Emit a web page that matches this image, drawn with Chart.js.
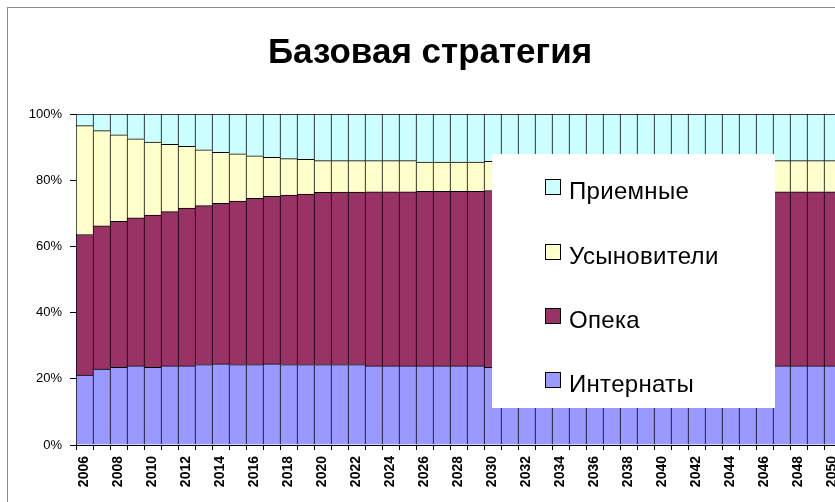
<!DOCTYPE html>
<html><head><meta charset="utf-8">
<script src="https://cdn.jsdelivr.net/npm/chart.js@4/dist/chart.umd.min.js"></script>
<style>
html,body{margin:0;padding:0;overflow:hidden;background:#fff;width:835px;height:502px}
#wrap{width:835px;height:502px;overflow:hidden;position:relative}
canvas{position:absolute;left:0;top:0}
</style></head>
<body><div id="wrap"><canvas id="c" width="860" height="515"></canvas></div>
<script>
const years = ['2006','2007','2008','2009','2010','2011','2012','2013','2014','2015','2016','2017','2018','2019','2020','2021','2022','2023','2024','2025','2026','2027','2028','2029','2030','2031','2032','2033','2034','2035','2036','2037','2038','2039','2040','2041','2042','2043','2044','2045','2046','2047','2048','2049','2050'];
const internaty = [21.1,22.9,23.5,23.9,23.5,23.9,23.9,24.3,24.5,24.3,24.3,24.5,24.3,24.3,24.3,24.3,24.3,23.9,23.9,23.9,23.9,23.9,23.9,23.9,23.5,23.6,23.6,23.7,23.7,23.7,23.8,23.8,23.8,23.8,23.9,23.9,23.9,23.9,23.9,23.9,23.9,23.9,23.9,23.9,23.9];
const opeka = [42.5,43.3,44.1,44.7,46.0,46.6,47.7,48.0,48.5,49.4,50.2,50.6,51.2,51.5,52.0,52.1,52.1,52.6,52.6,52.6,52.7,52.7,52.7,52.7,53.4,53.2,53.2,53.0,53.0,53.0,52.8,52.8,52.8,52.8,52.6,52.6,52.6,52.6,52.6,52.6,52.6,52.6,52.6,52.6,52.6];
const usynoviteli = [32.9,28.8,26.1,23.9,22.0,20.3,18.6,16.9,15.4,14.3,12.9,11.8,11.0,10.5,9.6,9.5,9.5,9.4,9.4,9.4,8.9,8.9,8.9,8.9,8.8,8.9,8.9,9.0,9.0,9.0,9.2,9.2,9.2,9.2,9.4,9.4,9.4,9.4,9.4,9.4,9.4,9.4,9.4,9.4,9.4];
const priemnye = [3.5,5.0,6.3,7.5,8.5,9.2,9.8,10.8,11.6,12.0,12.6,13.1,13.5,13.7,14.1,14.1,14.1,14.1,14.1,14.1,14.5,14.5,14.5,14.5,14.3,14.3,14.3,14.3,14.3,14.3,14.2,14.2,14.2,14.2,14.1,14.1,14.1,14.1,14.1,14.1,14.1,14.1,14.1,14.1,14.1];
const seriesNames = ['Интернаты','Опека','Усыновители','Приемные'];
const yTicks = [0,20,40,60,80,100];
const titleText = 'Базовая стратегия';

const FONT = '"Liberation Sans", Arial, sans-serif';
const colors = ['#9999FF','#993366','#FFFFCC','#CCFFFF'];
const seriesData = [internaty, opeka, usynoviteli, priemnye];

const frame = {
  id:'frame',
  beforeDraw(chart){
    const ctx = chart.ctx, a = chart.chartArea;
    ctx.save();
    ctx.fillStyle = '#fff';
    ctx.fillRect(0,0,chart.width,chart.height);
    ctx.strokeStyle = '#8c8c8c'; ctx.lineWidth = 1;
    ctx.strokeRect(7.5,7.5,chart.width-15,chart.height-15);
    ctx.strokeStyle = '#808080';
    ctx.strokeRect(Math.round(a.left)+0.5, Math.round(a.top)+0.5, a.right-a.left, a.bottom-a.top);
    ctx.restore();
  }
};

const legendBox = {
  id:'legendBox',
  afterDatasetsDraw(chart){
    const ctx = chart.ctx;
    ctx.save();
    ctx.fillStyle = '#fff';
    ctx.fillRect(492,154,283,254);
    const ds = chart.data.datasets.slice().reverse();
    const tops = [179,244,308,372];
    ds.forEach((d,i)=>{
      const t = tops[i];
      ctx.fillStyle = d.backgroundColor;
      ctx.fillRect(545,t,16,16);
      ctx.strokeStyle = '#000'; ctx.lineWidth = 1;
      ctx.strokeRect(545.5,t+0.5,15,15);
      ctx.fillStyle = '#000';
      ctx.font = '24px ' + FONT;
      if ('letterSpacing' in ctx) ctx.letterSpacing = '0.3px';
      ctx.textBaseline = 'alphabetic';
      ctx.textAlign = 'left';
      ctx.fillText(d.label, 569, t+20);
    });
    ctx.restore();
  }
};

new Chart(document.getElementById('c'), {
  type:'bar',
  data:{
    labels: years,
    datasets: seriesNames.map((n,i)=>({
      label:n,
      data:seriesData[i],
      backgroundColor:colors[i],
      borderColor:'#000',
      borderWidth:{left:1,top:1,right:0,bottom:0},
      borderSkipped:false,
      barPercentage:1,
      categoryPercentage:1
    }))
  },
  options:{
    responsive:false,
    animation:false,
    devicePixelRatio:1,
    layout:{padding:{left:0,right:0,top:0,bottom:0}},
    plugins:{
      legend:{display:false},
      tooltip:{enabled:false},
      title:{display:true,text:titleText,color:'#000',font:{family:FONT,size:35,weight:'bold'},padding:{top:32,bottom:40}}
    },
    scales:{
      x:{
        stacked:true,
        grid:{offset:true,drawOnChartArea:false,tickLength:5,color:'#000'},
        border:{display:true,color:'#000'},
        ticks:{autoSkip:false,minRotation:90,maxRotation:90,padding:6,color:'#000',font:{family:FONT,size:14,weight:'bold'},
          callback:(v,i)=> (Number(years[i])%2===0 ? years[i] : '')},
        afterFit(s){ s.height = 70; }
      },
      y:{
        stacked:true,min:0,max:100,
        afterBuildTicks(s){ s.ticks = yTicks.map(v=>({value:v})); },
        grid:{drawOnChartArea:false,tickLength:6,color:'#000'},
        border:{display:true,color:'#000'},
        ticks:{padding:8,color:'#000',font:{family:FONT,size:13},callback:v=>v+'%'},
        afterFit(s){ s.width = 76; }
      },
      yR:{
        position:'right',display:true,
        grid:{display:false},border:{display:false},ticks:{display:false},
        afterFit(s){ s.width = 19; }
      }
    }
  },
  plugins:[frame, legendBox]
});
</script>
</body></html>
